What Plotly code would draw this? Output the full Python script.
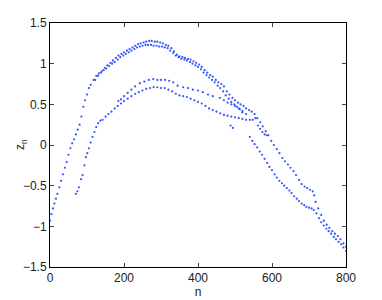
import plotly.graph_objects as go

# Upper strand of main branch
a1_n = [0,4,8,12,16,20,25,30,35,40,45,50,55,60,65,70,75,80,85,90,95,100,105,110,118,125,132,140,148,155,163,170,178,185,193,200,208,215,223,230,238,245,253,260,268,275,283,290,298,305,313,320,328,335,343,350,358,365,373,380,388,395,403,410,418,425,433,440,448,455,463,470,478,485,493,500,508,515,523,530,538,545,553,560,568,575,583,590,598,605,613,620,628,635,643,650,658,665,673,680,688,695,703,710,714,718,725,733,740,748,755,763,770,778,785,793,800]
a1_z = [-0.93,-0.85,-0.78,-0.72,-0.66,-0.60,-0.52,-0.44,-0.36,-0.28,-0.21,-0.12,-0.04,0.02,0.07,0.13,0.19,0.25,0.35,0.47,0.55,0.62,0.70,0.74,0.80,0.85,0.88,0.91,0.95,0.98,1.01,1.04,1.07,1.10,1.12,1.14,1.16,1.18,1.20,1.22,1.24,1.25,1.26,1.27,1.28,1.28,1.27,1.27,1.26,1.25,1.23,1.22,1.19,1.15,1.11,1.09,1.08,1.07,1.06,1.05,1.03,1.01,0.99,0.96,0.92,0.89,0.86,0.84,0.80,0.77,0.75,0.72,0.66,0.62,0.58,0.55,0.52,0.50,0.48,0.45,0.43,0.41,0.38,0.33,0.28,0.23,0.17,0.12,0.05,0.00,-0.05,-0.10,-0.16,-0.20,-0.24,-0.28,-0.32,-0.37,-0.43,-0.48,-0.51,-0.53,-0.55,-0.57,-0.62,-0.70,-0.78,-0.86,-0.93,-0.98,-1.02,-1.06,-1.09,-1.12,-1.16,-1.21,-1.25]

# Lower strand of main upper band
a2_n = [122,130,138,145,152,160,168,175,183,190,198,205,213,220,228,235,243,250,258,265,273,280,288,295,303,310,318,325,333,340,348,355,363,370,378,385,393,400,408,415,423,430,438,445,453,460,468,475,483,490,498,505,513,520]
a2_z = [0.80,0.85,0.89,0.92,0.94,0.97,1.00,1.02,1.05,1.08,1.10,1.12,1.14,1.16,1.18,1.20,1.21,1.22,1.23,1.23,1.23,1.22,1.22,1.21,1.21,1.20,1.19,1.16,1.13,1.10,1.08,1.06,1.05,1.04,1.02,1.00,0.98,0.96,0.93,0.89,0.86,0.83,0.80,0.77,0.73,0.70,0.66,0.61,0.57,0.53,0.50,0.47,0.44,0.40]

# Upper hump near 0.8
c_n = [185,192,200,210,220,230,243,255,267,279,290,300,311,322,333,345,360,373,386,400,413,427,440,459,470,480,490,500,510,520,530]
c_z = [0.54,0.56,0.60,0.64,0.68,0.72,0.76,0.78,0.80,0.81,0.80,0.80,0.80,0.79,0.77,0.73,0.71,0.70,0.68,0.67,0.65,0.62,0.60,0.58,0.55,0.52,0.50,0.48,0.45,0.42,0.38]

# Lower hump near 0.7
b_n = [70,74,78,84,88,93,97,101,105,110,115,120,125,130,136,142,150,158,166,175,183,192,200,210,220,230,240,250,260,270,280,290,300,310,320,330,340,350,360,370,380,390,400,410,420,430,440,450,460,470,480,490,500,510,520,530,540,548,555]
b_z = [-0.60,-0.57,-0.52,-0.42,-0.37,-0.25,-0.15,-0.10,-0.04,0.03,0.10,0.16,0.22,0.27,0.30,0.31,0.35,0.38,0.41,0.45,0.48,0.51,0.54,0.57,0.60,0.63,0.65,0.67,0.69,0.70,0.71,0.71,0.70,0.70,0.68,0.66,0.63,0.61,0.60,0.59,0.57,0.55,0.53,0.51,0.48,0.45,0.43,0.41,0.39,0.37,0.36,0.35,0.34,0.33,0.32,0.31,0.31,0.31,0.33]

# Lower descending branch on the right
d_n = [540,547,553,560,567,573,580,587,593,600,607,613,620,627,633,640,647,653,660,667,673,680,687,693,700,707,713,720,727,733,740,747,753,760,767,773,780,787,793,800]
d_z = [0.10,0.05,0.01,-0.03,-0.08,-0.12,-0.17,-0.22,-0.27,-0.31,-0.36,-0.40,-0.44,-0.47,-0.50,-0.53,-0.56,-0.59,-0.63,-0.66,-0.69,-0.72,-0.74,-0.76,-0.77,-0.78,-0.80,-0.84,-0.90,-0.95,-0.99,-1.03,-1.06,-1.09,-1.13,-1.16,-1.19,-1.22,-1.26,-1.30]

# Scattered middle points
e_n = [488,494,562,568,574,580,586]
e_z = [0.24,0.21,0.24,0.20,0.16,0.13,0.12]

x_ticks = [0, 200, 400, 600, 800]
y_ticks = [-1.5, -1, -0.5, 0, 0.5, 1, 1.5]
y_labels = ["\u22121.5", "\u22121", "\u22120.5", "0", "0.5", "1", "1.5"]

FONT = "Liberation Sans, Arial, sans-serif"

fig = go.Figure()
for xs, ys in [(a1_n, a1_z), (a2_n, a2_z), (c_n, c_z), (b_n, b_z), (d_n, d_z), (e_n, e_z)]:
    fig.add_trace(go.Scatter(x=xs, y=ys, mode="markers",
                             marker=dict(size=2.2, color="#3355ff", line=dict(width=0)),
                             showlegend=False, hoverinfo="skip"))

axis_common = dict(showline=True, linecolor="black", linewidth=1, mirror="ticks",
                   ticks="inside", ticklen=4, tickcolor="#444", showgrid=False,
                   zeroline=False, automargin=False,
                   tickfont=dict(family=FONT, size=12, color="#222"))
fig.update_xaxes(range=[0, 800], tickvals=x_ticks, ticktext=[str(v) for v in x_ticks],
                 title=dict(text="n", font=dict(family=FONT, size=12, color="#222"), standoff=2),
                 **axis_common)
fig.update_yaxes(range=[-1.5, 1.5], tickvals=y_ticks, ticktext=y_labels, **axis_common)
fig.add_annotation(text="z<sub>n</sub>", xref="paper", yref="paper", x=-29/296, y=0.5,
                   xanchor="center", yanchor="middle", textangle=-90, showarrow=False,
                   font=dict(family=FONT, size=12, color="#222"))
fig.update_layout(width=382, height=300, margin=dict(l=50, r=36, t=23, b=33, autoexpand=False),
                  paper_bgcolor="white", plot_bgcolor="white")
fig.write_html("out.html", config={"displayModeBar": False},
               post_script="document.body.style.margin='0';document.body.style.overflow='hidden';")
